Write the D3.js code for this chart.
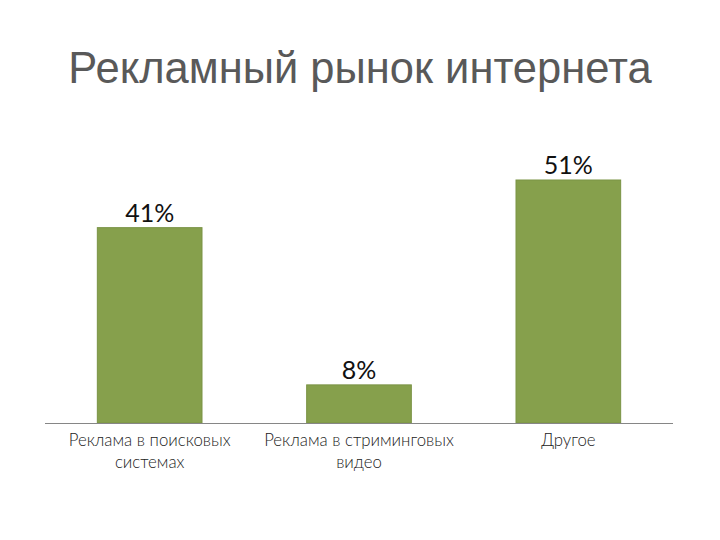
<!DOCTYPE html>
<html><head><meta charset="utf-8">
<script src="https://cdn.jsdelivr.net/npm/d3@7"></script>
<style>body{margin:0;background:#fff}</style>
</head><body>
<svg id="c" width="720" height="540"></svg>
<script>
const title = "Рекламный рынок интернета";
const categories = ["Реклама в поисковых|системах", "Реклама в стриминговых|видео", "Другое"];
const values = [41, 8, 51];
const valueLabels = ["41%", "8%", "51%"];

const svg = d3.select("#c");
const baseY = 423, left = 45, right = 673;
const x = d3.scaleBand().domain(categories).range([left, right]).paddingInner(0.5).paddingOuter(0.25);
const y = d3.scaleLinear().domain([0, 51]).range([baseY, 180]);

svg.append("text").attr("x", 360).attr("y", 83).attr("text-anchor", "middle")
  .attr("font-family", "Liberation Sans, Arial, sans-serif").attr("font-size", 43.5)
  .attr("fill", "#595959").text(title);

svg.selectAll("rect.bar").data(values).join("rect").attr("class", "bar")
  .attr("x", (d, i) => x(categories[i])).attr("width", x.bandwidth())
  .attr("y", d => y(d)).attr("height", d => baseY - y(d))
  .attr("fill", "#86a04c").attr("stroke", "#7a9345").attr("stroke-width", 1);

svg.append("line").attr("x1", left).attr("x2", right).attr("y1", baseY + 0.5).attr("y2", baseY + 0.5)
  .attr("stroke", "#868686").attr("stroke-width", 1.2);

svg.selectAll("text.val").data(values).join("text").attr("class", "val")
  .attr("x", (d, i) => x(categories[i]) + x.bandwidth() / 2)
  .attr("y", d => y(d) - 6).attr("text-anchor", "middle")
  .attr("font-family", "Lato, sans-serif").attr("font-size", 25).attr("fill", "#111")
  .text((d, i) => valueLabels[i]);

const cat = svg.selectAll("text.cat").data(categories).join("text").attr("class", "cat")
  .attr("text-anchor", "middle").attr("font-family", "Lato, sans-serif").attr("font-size", 16.8)
  .attr("font-weight", 300).attr("fill", "#222");
cat.each(function(d) {
  const lines = d.split("|");
  const cx = x(d) + x.bandwidth() / 2;
  d3.select(this).selectAll("tspan").data(lines).join("tspan")
    .attr("x", cx).attr("y", (l, j) => 446 + j * 22).text(l => l);
});
</script>
</body></html>
